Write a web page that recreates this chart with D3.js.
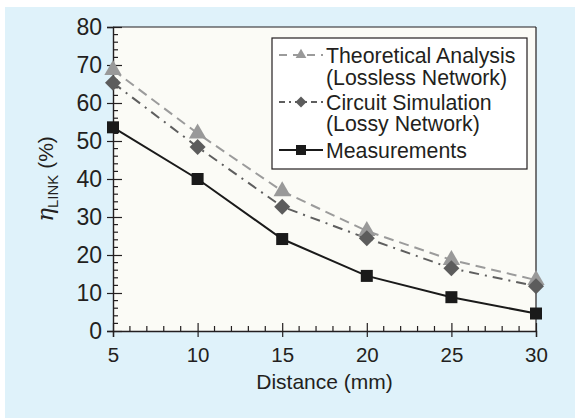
<!DOCTYPE html>
<html><head><meta charset="utf-8">
<script src="https://cdn.jsdelivr.net/npm/d3@7"></script>
<style>body{margin:0;background:#fff}svg{display:block}text{font-family:"Liberation Sans",Arial,sans-serif;fill:#231f20}</style>
</head><body><svg id="c" width="575" height="420"></svg>
<script>
const distances = [5, 10, 15, 20, 25, 30];
const theoretical = [68.7, 52, 36.8, 26.3, 18.7, 13.4];
const circuit = [65.3, 48.4, 32.7, 24.4, 16.5, 11.8];
const measured = [53.6, 40, 24.2, 14.5, 8.9, 4.6];
const yTicks = [0, 10, 20, 30, 40, 50, 60, 70, 80];
const xTicks = [5, 10, 15, 20, 25, 30];
const legendLines = ["Theoretical Analysis", "(Lossless Network)", "Circuit Simulation", "(Lossy Network)", "Measurements"];

const svg = d3.select("#c");
svg.append("rect").attr("x",5).attr("y",7).attr("width",570).attr("height",411).attr("fill","#dff2fa");
const L=113, R=536, T=27, B=331;
const x = d3.scaleLinear().domain([5,30]).range([L,R]);
const y = d3.scaleLinear().domain([0,80]).range([B,T]);
svg.append("rect").attr("x",L).attr("y",T).attr("width",R-L).attr("height",B-T).attr("fill","#fbfbf6");
svg.append("line").attr("x1",L).attr("x2",R).attr("y1",T).attr("y2",T).attr("stroke","#231f20").attr("stroke-width",1.2);
svg.append("line").attr("x1",R).attr("x2",R).attr("y1",T).attr("y2",B).attr("stroke","#231f20").attr("stroke-width",1.2);

const g = svg.append("g");
d3.range(0,81,2).forEach(v=>{ if(v%10) g.append("line").attr("x1",L).attr("x2",L+5).attr("y1",y(v)).attr("y2",y(v)).attr("stroke","#231f20").attr("stroke-width",1.2);});
d3.range(5,31,1).forEach(v=>{ if(v%5) g.append("line").attr("x1",x(v)).attr("x2",x(v)).attr("y1",B).attr("y2",B-5).attr("stroke","#231f20").attr("stroke-width",1.2);});
const ya = svg.append("g").attr("transform",`translate(${L},0)`).call(d3.axisLeft(y).tickValues(yTicks).tickSize(6).tickPadding(5));
ya.selectAll(".tick line").clone().attr("x2",9);
const xa = svg.append("g").attr("transform",`translate(0,${B})`).call(d3.axisBottom(x).tickValues(xTicks).tickSize(6).tickPadding(10));
xa.selectAll(".tick line").clone().attr("y2",-8);
[ya,xa].forEach(a=>{a.select(".domain").attr("stroke","#231f20").attr("stroke-width",1.4);a.selectAll(".tick line").attr("stroke","#231f20").attr("stroke-width",1.2);a.selectAll("text").attr("fill","#231f20").style("font-family","Liberation Sans, Arial, sans-serif");});
ya.selectAll("text").attr("font-size",23);
xa.selectAll("text").attr("font-size",20.5);

svg.append("text").attr("x",(L+R)/2).attr("y",389).attr("text-anchor","middle").attr("font-size",21).text("Distance (mm)");
const yl = svg.append("text").attr("transform",`translate(53,${(T+B)/2}) rotate(-90)`).attr("text-anchor","middle").attr("font-size",21);
yl.append("tspan").attr("font-style","italic").attr("font-family","DejaVu Serif").attr("font-size",23).text("η");
yl.append("tspan").attr("font-size",15).attr("dy",5).text("LINK");
yl.append("tspan").attr("dy",-5).text(" (%)");

const line = d3.line().x((d,i)=>x(distances[i])).y(d=>y(d));
svg.append("path").datum(theoretical).attr("d",line).attr("fill","none").attr("stroke","#9b9b9b").attr("stroke-width",2).attr("stroke-dasharray","10,6");
svg.append("path").datum(circuit).attr("d",line).attr("fill","none").attr("stroke","#5e5e5e").attr("stroke-width",2).attr("stroke-dasharray","10,6,2,6");
svg.append("path").datum(measured).attr("d",line).attr("fill","none").attr("stroke","#1a1a1a").attr("stroke-width",2);

const tri = d3.symbol().type(d3.symbolTriangle).size(130);
const diaPath = r => `M0,${-r}L${r},0L0,${r}L${-r},0Z`;
svg.selectAll(".tri").data(theoretical).join("path").attr("d",tri).attr("transform",(d,i)=>`translate(${x(distances[i])},${y(d)})`).attr("fill","#999999");
svg.selectAll(".dia").data(circuit).join("path").attr("d",diaPath(8)).attr("transform",(d,i)=>`translate(${x(distances[i])},${y(d)})`).attr("fill","#5c5c5c");
svg.selectAll(".sq").data(measured).join("rect").attr("x",(d,i)=>x(distances[i])-6).attr("y",d=>y(d)-6).attr("width",12).attr("height",12).attr("fill","#1a1a1a");

const lg = svg.append("g");
lg.append("rect").attr("x",272).attr("y",38).attr("width",255).attr("height",131).attr("fill","#fff").attr("stroke","#231f20").attr("stroke-width",1.2);
const ly = [55,77,102,123,150];
legendLines.forEach((t,i)=>lg.append("text").attr("x",326).attr("y",ly[i]+7.5).attr("font-size",21.3).text(t));
lg.append("line").attr("x1",279).attr("x2",323).attr("y1",ly[0]).attr("y2",ly[0]).attr("stroke","#9b9b9b").attr("stroke-width",2).attr("stroke-dasharray","8,6");
lg.append("path").attr("d",d3.symbol().type(d3.symbolTriangle).size(50)).attr("transform",`translate(301,${ly[0]})`).attr("fill","#999");
lg.append("line").attr("x1",279).attr("x2",323).attr("y1",ly[2]).attr("y2",ly[2]).attr("stroke","#5e5e5e").attr("stroke-width",2).attr("stroke-dasharray","6,4,2,4");
lg.append("path").attr("d",diaPath(5.5)).attr("transform",`translate(301,${ly[2]})`).attr("fill","#5c5c5c");
lg.append("line").attr("x1",279).attr("x2",323).attr("y1",ly[4]).attr("y2",ly[4]).attr("stroke","#1a1a1a").attr("stroke-width",2);
lg.append("rect").attr("x",296).attr("y",ly[4]-5).attr("width",10).attr("height",10).attr("fill","#1a1a1a");
</script></body></html>
